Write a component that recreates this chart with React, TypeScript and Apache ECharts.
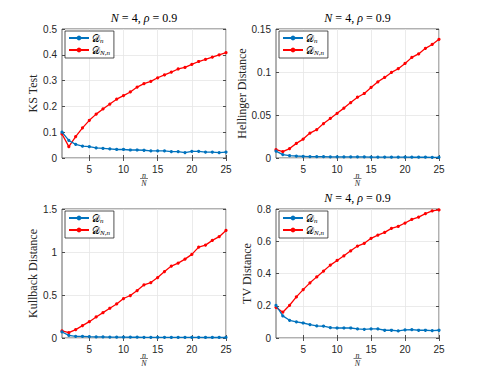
import { useEffect, useRef } from 'react';
import * as echarts from 'echarts';

const nOverN = [1, 2, 3, 4, 5, 6, 7, 8, 9, 10, 11, 12, 13, 14, 15, 16, 17, 18, 19, 20, 21, 22, 23, 24, 25];
const xTicks = [5, 10, 15, 20, 25];

const ksDn = [0.1, 0.068, 0.053, 0.046, 0.044, 0.039, 0.037, 0.035, 0.033, 0.033, 0.031, 0.031, 0.03, 0.028, 0.028, 0.028, 0.025, 0.025, 0.021, 0.026, 0.026, 0.023, 0.023, 0.021, 0.023];
const ksDNn = [0.093, 0.044, 0.083, 0.117, 0.146, 0.17, 0.19, 0.209, 0.228, 0.242, 0.256, 0.275, 0.288, 0.297, 0.311, 0.322, 0.333, 0.345, 0.351, 0.363, 0.374, 0.382, 0.391, 0.4, 0.408];

const helDn = [0.008, 0.004, 0.0027, 0.0023, 0.002, 0.0017, 0.0015, 0.0015, 0.0014, 0.0014, 0.0013, 0.0013, 0.0012, 0.0012, 0.0011, 0.0011, 0.0011, 0.001, 0.001, 0.001, 0.0009, 0.0009, 0.0009, 0.0008, 0.0008];
const helDNn = [0.0097, 0.0074, 0.011, 0.017, 0.022, 0.029, 0.033, 0.04, 0.046, 0.052, 0.058, 0.0645, 0.0707, 0.075, 0.082, 0.0886, 0.0937, 0.0995, 0.1038, 0.11, 0.117, 0.121, 0.1275, 0.132, 0.138];

const klDn = [0.07, 0.03, 0.02, 0.018, 0.015, 0.013, 0.012, 0.011, 0.01, 0.01, 0.009, 0.009, 0.008, 0.008, 0.008, 0.008, 0.007, 0.007, 0.007, 0.007, 0.007, 0.006, 0.006, 0.006, 0.006];
const klDNn = [0.082, 0.062, 0.097, 0.144, 0.19, 0.245, 0.295, 0.346, 0.396, 0.459, 0.494, 0.552, 0.618, 0.645, 0.703, 0.773, 0.836, 0.871, 0.917, 0.972, 1.057, 1.08, 1.135, 1.178, 1.251];

const tvDn = [0.203, 0.137, 0.11, 0.1, 0.093, 0.083, 0.075, 0.073, 0.064, 0.062, 0.062, 0.062, 0.056, 0.054, 0.056, 0.056, 0.048, 0.048, 0.044, 0.05, 0.052, 0.048, 0.048, 0.046, 0.048];
const tvDNn = [0.19, 0.16, 0.203, 0.255, 0.3, 0.342, 0.379, 0.415, 0.452, 0.481, 0.51, 0.541, 0.57, 0.587, 0.618, 0.638, 0.655, 0.68, 0.692, 0.713, 0.736, 0.75, 0.771, 0.788, 0.794];

const yNames = ['KS Test', 'Hellinger Distance', 'Kullback Distance', 'TV Distance'];
const yMax = [0.5, 0.15, 1.5, 0.8];
const yStep = [0.1, 0.05, 0.5, 0.2];
const dnSeries = [ksDn, helDn, klDn, tvDn];
const dnnSeries = [ksDNn, helDNn, klDNn, tvDNn];
const hasTitle = [true, true, false, true];
const titleText = '{i|N} = 4, {i|ρ} = 0.9';

const BLUE = '#0072BD';
const RED = '#FF0000';
const AX = '#262626';

const layout = [
  { left: 62, top: 29, width: 164, height: 129, gap: 17 },
  { left: 276, top: 29, width: 163, height: 129, gap: 21 },
  { left: 62, top: 209, width: 164, height: 129, gap: 17 },
  { left: 276, top: 209, width: 163, height: 129, gap: 18 },
];

export default function App() {
  const ref = useRef<HTMLDivElement>(null);
  useEffect(() => {
    document.body.style.margin = '0';
    const chart = echarts.init(ref.current!, null, { renderer: 'svg' });
    const grids: any[] = [];
    const xAxes: any[] = [];
    const yAxes: any[] = [];
    const series: any[] = [];
    const legends: any[] = [];
    const graphics: any[] = [];
    const labelFont = { fontFamily: 'Liberation Sans', fontSize: 10, color: AX };
    layout.forEach((g, i) => {
      grids.push({
        left: g.left, top: g.top, width: g.width, height: g.height,
        show: true, borderColor: '#3a3a3a', borderWidth: 0.8, backgroundColor: '#fff',
      });
      xAxes[i] = {
        type: 'value', gridIndex: i, min: 1, max: 25,
        axisLine: { show: false },
        axisTick: { inside: true, length: 3, customValues: xTicks, lineStyle: { color: AX, width: 0.8 } },
        axisLabel: { ...labelFont, margin: 6, customValues: xTicks },
        splitLine: { show: true, lineStyle: { color: '#e6e6e6', width: 0.8 } },
      };
      xAxes[i + 4] = {
        type: 'value', gridIndex: i, min: 1, max: 25, position: 'top',
        axisLine: { show: false },
        axisTick: { inside: true, length: 3, customValues: xTicks, lineStyle: { color: AX, width: 0.8 } },
        axisLabel: { show: false, customValues: xTicks },
        splitLine: { show: false },
      };
      yAxes[i] = {
        type: 'value', gridIndex: i, min: 0, max: yMax[i], interval: yStep[i],
        name: yNames[i], nameLocation: 'middle', nameGap: g.gap,
        nameTextStyle: { fontFamily: 'Liberation Serif', fontSize: 12, color: AX },
        axisLine: { show: false },
        axisTick: { show: true, inside: true, length: 3, lineStyle: { color: AX, width: 0.8 } },
        axisLabel: { ...labelFont, margin: 5 },
        splitLine: { show: true, lineStyle: { color: '#e6e6e6', width: 0.8 } },
      };
      yAxes[i + 4] = {
        type: 'value', gridIndex: i, min: 0, max: yMax[i], interval: yStep[i], position: 'right',
        axisLine: { show: false },
        axisTick: { show: true, inside: true, length: 3, lineStyle: { color: AX, width: 0.8 } },
        axisLabel: { show: false },
        splitLine: { show: false },
      };
      const mk = (name: string, vals: number[], color: string) => ({
        type: 'line', name, xAxisIndex: i, yAxisIndex: i,
        data: nOverN.map((x, k) => [x, vals[k]]),
        symbol: 'circle', symbolSize: 3.2, showSymbol: true,
        itemStyle: { color }, lineStyle: { color, width: 1.3 },
        z: name === 'DNn' ? 3 : 4,
      });
      series.push(mk('Dn', dnSeries[i], BLUE));
      series.push(mk('DNn', dnnSeries[i], RED));
      legends.push({
        data: ['Dn', 'DNn'], orient: 'vertical', left: g.left + 3, top: g.top + 2,
        itemWidth: 20, itemHeight: 6, itemGap: 1, padding: [2, 4, 2, 3],
        backgroundColor: '#fff', borderColor: AX, borderWidth: 0.8, borderRadius: 0,
        selectedMode: false,
        formatter: (n: string) => (n === 'Dn' ? '{d|𝒟}{s|n}' : '{d|𝒟}{s|N,n}'),
        textStyle: {
          padding: [0, 0, 0, -2],
          rich: {
            d: { fontFamily: 'DejaVu Serif', fontSize: 10, color: '#000', lineHeight: 12 },
            s: { fontFamily: 'Liberation Serif', fontStyle: 'italic', fontSize: 7, color: '#000', lineHeight: 12, verticalAlign: 'bottom' },
          },
        },
      });
      const cx = g.left + g.width / 2;
      if (hasTitle[i]) {
        graphics.push({
          type: 'text', x: cx, y: g.top - 11,
          style: {
            text: titleText, align: 'center', verticalAlign: 'middle',
            fontFamily: 'Liberation Serif', fontSize: 12, fill: '#000',
            rich: { i: { fontFamily: 'Liberation Serif', fontStyle: 'italic', fontSize: 12, fill: '#000' } },
          },
        });
      }
      const fy = g.top + g.height + 20;
      graphics.push({
        type: 'text', x: cx, y: fy - 3,
        style: { text: 'n', align: 'center', verticalAlign: 'middle', fontFamily: 'Liberation Serif', fontStyle: 'italic', fontSize: 8, fill: AX },
      });
      graphics.push({
        type: 'line', shape: { x1: cx - 4, y1: fy + 0.5, x2: cx + 4, y2: fy + 0.5 },
        style: { stroke: AX, lineWidth: 0.6 },
      });
      graphics.push({
        type: 'text', x: cx, y: fy + 5,
        style: { text: 'N', align: 'center', verticalAlign: 'middle', fontFamily: 'Liberation Serif', fontStyle: 'italic', fontSize: 8, fill: AX },
      });
    });
    chart.setOption({
      animation: false,
      backgroundColor: '#fff',
      grid: grids,
      xAxis: xAxes,
      yAxis: yAxes,
      series,
      legend: legends,
      graphic: graphics,
    });
    return () => chart.dispose();
  }, []);
  return <div ref={ref} style={{ width: 485, height: 379 }} />;
}
